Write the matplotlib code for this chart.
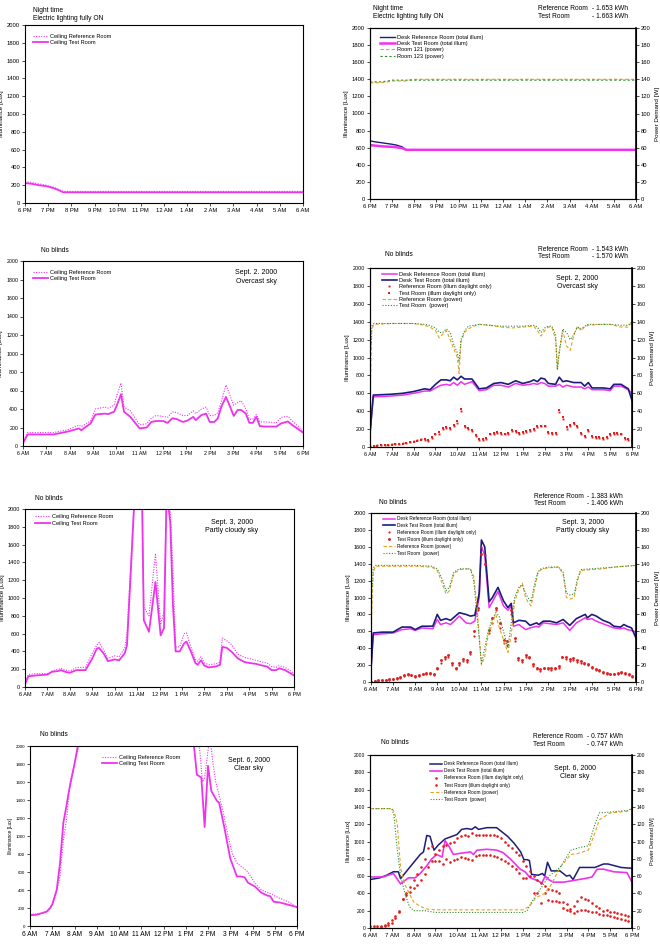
import numpy as np
import matplotlib
matplotlib.use("Agg")
import matplotlib.pyplot as plt

plt.rcParams['font.family'] = ['Liberation Sans', 'DejaVu Sans']

MAG = '#ee33ee'
NAVY = '#1c1c7a'
ORANGE = '#e8a020'
GREEN = '#2e8b2e'
RED = '#e02020'

night_labels = ['6 PM', '7 PM', '8 PM', '9 PM', '10 PM', '11 PM', '12 AM',
                '1 AM', '2 AM', '3 AM', '4 AM', '5 AM', '6 AM']
day_labels = ['6 AM', '7 AM', '8 AM', '9 AM', '10 AM', '11 AM', '12 PM',
              '1 PM', '2 PM', '3 PM', '4 PM', '5 PM', '6 PM']
# 10 minute sample grid (hours from start) used by the daylight-only readings
minutes = np.arange(0, 721, 10) / 60.0

# ---- night, ceiling
p1_t = [0, 0.3, 0.6, 0.9, 1.2, 1.4, 1.65, 12]
p1_ref = [240, 230, 215, 200, 180, 160, 130, 130]
p1_test = [225, 215, 200, 190, 170, 150, 120, 120]

# ---- night, desk + power
p2_t = [0, 0.2, 0.6, 1.0, 1.2, 1.45, 1.65, 12]
p2_ref = [680, 670, 655, 640, 630, 610, 570, 570]
p2_test = [630, 625, 615, 610, 605, 595, 575, 575]
p2_pt = [0, 0.5, 0.8, 1.0, 1.3, 1.6, 1.9, 12]
p2_pow121 = [136, 136, 137, 138, 138, 138, 140, 140]
p2_pow123 = [137, 137, 138, 139, 139, 139, 139, 139]

# ---- Sept 2, ceiling
p3_t = [0, 0.2, 1.3, 1.9, 2.4, 2.5, 2.9, 3.1, 3.3, 3.5, 3.66, 3.9, 4.0, 4.2, 4.33, 4.6,
        5.0, 5.3, 5.5, 5.7, 6.0, 6.2, 6.4, 6.6, 6.85, 7.05, 7.3, 7.4, 7.65, 7.85, 8.0,
        8.2, 8.35, 8.5, 8.7, 8.85, 9.03, 9.2, 9.35, 9.55, 9.7, 9.85, 10.0, 10.15, 10.4,
        10.85, 11.07, 11.35, 11.55, 12]
p3_test = [30, 125, 125, 155, 190, 170, 245, 340, 345, 350, 345, 370, 425, 560, 370, 315,
           190, 200, 260, 270, 270, 250, 300, 290, 260, 275, 315, 280, 335, 350, 260,
           260, 300, 425, 530, 440, 325, 390, 390, 350, 250, 250, 315, 215, 210,
           210, 245, 265, 225, 145]
p3_ref = [40, 145, 145, 175, 225, 210, 270, 400, 410, 420, 410, 440, 530, 680, 420, 380,
          230, 240, 300, 330, 320, 310, 370, 360, 330, 330, 380, 350, 400, 420, 330,
          330, 360, 480, 660, 560, 440, 470, 490, 400, 290, 290, 340, 260, 260,
          250, 310, 320, 270, 160]

# ---- Sept 2, desk + power
p4_t = [0, 0.15, 1.0, 1.5, 2.0, 2.5, 2.75, 3.0, 3.25, 3.5, 3.67, 3.83, 4.0, 4.17, 4.33,
        4.67, 5.0, 5.33, 5.67, 6.0, 6.33, 6.67, 7.0, 7.33, 7.5, 7.67, 7.83, 8.0, 8.17,
        8.5, 8.67, 8.83, 9.0, 9.33, 9.67, 9.83, 10.0, 10.17, 10.67, 11.0, 11.17, 11.5,
        11.83, 12]
p4_test = [150, 580, 590, 600, 620, 650, 640, 700, 750, 750, 740, 780, 750, 790, 760,
           760, 650, 660, 710, 720, 700, 740, 710, 730, 750, 730, 770, 760, 710,
           700, 780, 730, 740, 720, 720, 680, 720, 660, 660, 650, 700, 700, 650, 520]
p4_ref = [150, 560, 570, 580, 600, 625, 625, 660, 690, 700, 690, 720, 690, 730, 700,
          730, 630, 640, 690, 690, 670, 710, 690, 700, 710, 700, 720, 710, 680,
          680, 700, 670, 690, 670, 670, 650, 670, 640, 640, 630, 680, 680, 640, 600]
p4_day_ref = [10, 15, 20, 20, 25, 25, 30, 30, 35, 40, 50, 60, 70, 80, 90, 80, 70, 100,
              140, 150, 200, 210, 200, 230, 270, 400, 220, 200, 180, 120, 80, 80, 90, 140,
              150, 160, 150, 140, 150, 180, 170, 150, 160, 170, 180, 190, 220, 240, 230,
              160, 150, 150, 390, 310, 200, 240, 260, 220, 150, 110, 180, 110, 100, 100,
              90, 100, 130, 150, 150, 140, 90, 80, 60]
p4_day_test = [0, 10, 15, 20, 20, 25, 25, 30, 30, 35, 45, 55, 60, 70, 80, 90, 80, 110,
               150, 170, 210, 220, 210, 250, 290, 430, 240, 210, 190, 130, 90, 90, 100, 150,
               160, 170, 160, 150, 160, 190, 180, 160, 170, 180, 190, 200, 230, 240, 240,
               170, 160, 160, 410, 340, 220, 250, 270, 240, 160, 120, 190, 120, 110, 110,
               100, 110, 140, 160, 160, 150, 100, 90, 70]
p4_pt = [0, 0.03, 0.05, 0.08, 0.17, 1.0, 2.0, 2.5, 2.75, 3.0, 3.17, 3.33, 3.5, 3.67, 3.83,
         4.0, 4.08, 4.17, 4.33, 4.5, 4.75, 5.0, 5.5, 6.0, 6.5, 7.0, 7.5, 7.67, 7.83, 8.0,
         8.17, 8.33, 8.5, 8.58, 8.67, 8.83, 9.0, 9.17, 9.33, 9.5, 9.67, 9.83, 10.0, 10.5,
         11.0, 11.5, 11.83, 12]
p4_pow_ref = [40, 80, 100, 130, 137, 138, 138, 136, 134, 130, 122, 126, 130, 120, 110,
              100, 82, 118, 128, 132, 135, 137, 136, 134, 133, 134, 135, 130, 124, 130,
              134, 134, 120, 88, 108, 130, 113, 108, 125, 135, 130, 134, 136, 137,
              137, 134, 134, 140]
p4_pow_test = [70, 110, 112, 135, 138, 138, 138, 137, 136, 133, 128, 128, 132, 128, 115,
               105, 95, 120, 130, 135, 136, 137, 136, 135, 135, 135, 136, 134, 128, 133,
               135, 135, 125, 86, 105, 132, 128, 120, 125, 134, 132, 135, 137, 137,
               137, 136, 136, 140]

# ---- Sept 3, ceiling
p5_t = [0, 0.15, 0.5, 1.0, 1.2, 1.5, 1.6, 1.8, 2.0, 2.3, 2.7, 3.0, 3.2, 3.3, 3.5, 3.7,
        4.0, 4.2, 4.45, 4.55, 4.7, 4.85, 5.0, 5.2, 5.3, 5.53, 5.82, 6.05, 6.2, 6.32,
        6.48, 6.6, 6.72, 6.9, 7.1, 7.2, 7.4, 7.6, 7.7, 7.85, 8.0, 8.2, 8.5, 8.7, 8.8,
        9.0, 9.2, 9.5, 9.8, 10.0, 10.3, 10.6, 10.8, 11.0, 11.2, 11.35, 11.6, 11.8, 12]
p5_test = [30, 120, 130, 140, 170, 180, 190, 170, 160, 190, 190, 320, 430, 440, 380, 290,
           310, 300, 380, 470, 1200, 1950, 2600, 2500, 750, 620, 1180, 580, 660, 2200,
           1850, 920, 400, 400, 490, 510, 400, 270, 250, 300, 240, 220, 230, 250, 450,
           440, 400, 320, 280, 270, 260, 240, 230, 190, 190, 210, 190, 160, 130]
p5_ref = [40, 140, 150, 150, 180, 200, 210, 190, 180, 220, 220, 380, 470, 500, 420, 320,
          350, 340, 440, 600, 1300, 2000, 2700, 2600, 900, 800, 1500, 700, 850, 2300,
          2000, 1300, 450, 450, 600, 610, 450, 310, 290, 340, 270, 250, 260, 280, 550,
          520, 480, 370, 330, 320, 300, 280, 270, 230, 220, 240, 220, 190, 150]

# ---- Sept 3, desk + power
p6_t = [0, 0.1, 0.5, 1.0, 1.2, 1.4, 1.8, 2.0, 2.3, 2.8, 3.0, 3.15, 3.4, 3.6, 4.0, 4.3,
        4.5, 4.7, 4.9, 5.0, 5.15, 5.35, 5.5, 5.75, 6.0, 6.2, 6.35, 6.45, 6.7, 7.0, 7.2,
        7.5, 7.6, 7.8, 8.1, 8.4, 8.7, 9.0, 9.3, 9.7, 9.8, 10.0, 10.2, 10.5, 10.8, 11.0,
        11.3, 11.45, 11.6, 11.8, 12.0]
p6_test = [150, 580, 590, 590, 620, 650, 650, 620, 660, 660, 800, 730, 750, 730, 820, 800,
           780, 790, 1050, 1680, 1600, 950, 1000, 1120, 960, 880, 930, 700, 730, 720, 670,
           700, 680, 720, 720, 700, 740, 670, 750, 800, 760, 800, 780, 730, 700, 660,
           650, 680, 660, 640, 520]
p6_ref = [150, 560, 570, 580, 600, 620, 630, 610, 640, 630, 740, 680, 700, 680, 780, 700,
          690, 720, 1000, 1600, 1500, 880, 950, 1070, 900, 850, 900, 660, 680, 620, 640,
          660, 650, 700, 690, 680, 700, 610, 700, 760, 740, 750, 720, 690, 660, 640,
          630, 640, 620, 610, 590]
p6_day_ref = [0, 10, 15, 20, 20, 25, 30, 40, 50, 70, 80, 80, 60, 70, 90, 100, 100, 80,
              150, 230, 270, 290, 200, 150, 200, 250, 240, 330, 550, 850, 1600, 1500, 580,
              700, 850, 640, 460, 440, 800, 480, 260, 240, 300, 280, 190, 150, 130, 160,
              150, 140, 150, 170, 300, 270, 250, 260, 240, 230, 210, 200, 170, 140, 130,
              110, 100, 90, 90, 100, 110, 100, 80, 60, 40]
p6_day_test = [0, 15, 20, 25, 25, 30, 40, 50, 60, 80, 90, 85, 70, 80, 100, 110, 110, 90,
               170, 260, 300, 320, 230, 170, 220, 270, 260, 350, 600, 880, 1520, 1400, 620,
               760, 880, 700, 500, 480, 850, 520, 280, 260, 320, 300, 210, 170, 150, 170,
               170, 160, 170, 190, 300, 290, 270, 280, 260, 250, 230, 210, 180, 150, 140,
               120, 110, 100, 100, 110, 120, 110, 90, 70, 50]
p6_pt = [0, 0.03, 0.06, 0.1, 0.2, 1.0, 2.0, 2.75, 3.0, 3.25, 3.4, 3.55, 3.75, 4.0, 4.5,
         4.65, 4.8, 5.0, 5.15, 5.3, 5.5, 5.65, 5.8, 6.0, 6.2, 6.35, 6.5, 6.7, 6.85, 7.0,
         7.1, 7.25, 7.4, 7.55, 7.7, 8.0, 8.5, 8.7, 8.85, 9.0, 9.2, 9.35, 9.5, 10.0, 10.5,
         11.0, 11.5, 12.0]
p6_pow_ref = [40, 80, 100, 130, 137, 137, 137, 136, 132, 115, 104, 108, 128, 133, 134,
              125, 90, 20, 30, 55, 70, 80, 65, 50, 35, 55, 95, 110, 117, 100, 95, 90, 110,
              128, 133, 135, 136, 128, 100, 98, 100, 120, 132, 133, 134, 136, 137, 138]
p6_pow_test = [70, 110, 112, 135, 138, 138, 138, 137, 134, 120, 108, 112, 130, 134, 134,
               120, 80, 22, 40, 60, 75, 82, 78, 60, 40, 70, 100, 112, 115, 105, 100, 95,
               115, 130, 134, 136, 136, 130, 105, 103, 104, 122, 133, 134, 135, 136, 137,
               138]

# ---- Sept 6, ceiling
p7_t = [0, 0.3, 0.5, 0.75, 0.9, 1.0, 1.1, 1.2, 1.35, 1.5, 1.65, 1.75, 2.0, 2.15, 2.3,
        3.0, 5.0, 7.0, 7.35, 7.5, 7.7, 7.85, 8.0, 8.15, 8.4, 8.5, 8.73, 9.0, 9.15, 9.3,
        9.5, 9.65, 9.8, 10.1, 10.4, 10.65, 10.8, 10.95, 11.25, 11.7, 12.0]
p7_test = [120, 125, 140, 160, 200, 240, 320, 400, 700, 1150, 1350, 1500, 1800, 2000,
           2300, 3500, 4500, 3500, 2050, 1680, 1650, 1100, 1780, 1500, 1390, 1370, 1100,
           750, 650, 550, 550, 540, 480, 440, 370, 340, 330, 270, 260, 230, 210]
p7_rt = [0, 0.3, 0.5, 0.75, 0.9, 1.0, 1.1, 1.2, 1.35, 1.5, 1.65, 1.8, 2.0, 2.2, 2.4,
         3.0, 5.0, 7.0, 7.55, 7.65, 7.75, 7.85, 8.0, 8.1, 8.2, 8.35, 8.55, 8.7, 8.9, 9.1,
         9.3, 9.6, 9.8, 10.1, 10.4, 10.8, 11.2, 11.7, 12.0]
p7_ref = [130, 135, 140, 155, 190, 230, 300, 380, 560, 950, 1200, 1600, 1800, 2000, 2400,
          3500, 4500, 3500, 2100, 1900, 1600, 1650, 1950, 2100, 1850, 1600, 1400, 1250,
          1000, 800, 700, 640, 600, 480, 400, 360, 310, 260, 200]

# ---- Sept 6, desk + power
p8_t = [0, 0.45, 0.76, 1.07, 1.3, 1.4, 1.75, 2.3, 2.45, 2.6, 2.75, 2.93, 3.13, 3.44,
        3.98, 4.2, 4.43, 4.66, 4.82, 4.97, 5.35, 5.8, 6.3, 6.6, 6.9, 7.05, 7.2, 7.3, 7.4,
        7.7, 7.9, 8.0, 8.13, 8.3, 8.7, 9.0, 9.15, 9.3, 9.6, 10.3, 10.7, 10.9, 11.5, 12.0]
p8_ref = [560, 580, 610, 650, 650, 570, 680, 850, 880, 1070, 1060, 900, 960, 1030, 1080,
          1140, 1150, 1140, 1170, 1140, 1160, 1160, 1060, 980, 880, 790, 790, 780, 620,
          610, 630, 600, 760, 660, 660, 600, 610, 560, 700, 700, 740, 740, 700, 690]
p8_mt = [0, 0.6, 1.07, 1.4, 1.76, 2.06, 2.3, 2.6, 2.83, 3.06, 3.3, 3.44, 3.6, 3.82, 4.05,
         4.6, 4.74, 4.9, 5.35, 5.8, 6.1, 6.42, 6.88, 7.1, 7.34, 7.65, 7.87, 8.03, 8.18,
         8.4, 8.87, 9.33, 9.8, 10.17, 10.4, 10.7, 11.16, 11.77, 12.0]
p8_test = [590, 590, 630, 510, 580, 580, 630, 720, 800, 850, 820, 1010, 950, 850, 860,
           880, 850, 900, 910, 900, 870, 800, 680, 650, 580, 550, 520, 600, 560, 530, 530,
           550, 570, 590, 680, 680, 650, 640, 530]
p8_day_ref = [20, 20, 20, 25, 40, 60, 90, 140, 200, 340, 380, 470, 560, 620, 700, 800,
              930, 950, 860, 900, 950, 960, 980, 1000, 1040, 1060, 1070, 1060, 1100, 1070,
              1080, 1070, 1080, 1080, 1080, 1060, 1040, 1000, 960, 920, 880, 840, 780, 720,
              660, 600, 560, 520, 480, 450, 440, 430, 400, 300, 280, 220, 260, 310, 360,
              340, 320, 290, 260, 230, 200, 210, 190, 180, 170, 160, 150, 140, 130]
p8_day_test = [0, 0, 5, 10, 20, 40, 60, 120, 190, 330, 400, 420, 460, 500, 560, 620, 700,
               770, 780, 770, 740, 800, 760, 790, 800, 820, 810, 800, 790, 830, 840, 840,
               840, 840, 830, 820, 800, 780, 750, 720, 680, 640, 580, 580, 600, 400, 400,
               290, 400, 320, 310, 310, 300, 230, 210, 200, 170, 200, 210, 210, 200, 190,
               180, 160, 150, 150, 140, 130, 110, 100, 90, 80, 70]
p8_pt_ref = [0, 1.0, 1.1, 1.25, 1.4, 1.6, 1.8, 2.0, 2.3, 2.6, 3.0, 7.0, 7.3, 7.6, 8.0,
             8.3, 8.7, 9.2, 9.5, 10.0, 10.3, 10.5, 11.0, 11.8, 12.0]
p8_pow_ref = [138, 138, 135, 120, 70, 50, 40, 30, 25, 22, 21, 21, 25, 35, 40, 50, 70, 85,
              86, 90, 110, 125, 133, 135, 138]
p8_pt_test = [0, 1.0, 1.1, 1.25, 1.4, 1.6, 1.8, 2.0, 2.5, 3.0, 5.0, 7.0, 7.2, 7.4, 7.8,
              8.2, 8.7, 9.2, 9.6, 10.0, 10.3, 10.5, 11.0, 11.8, 12.0]
p8_pow_test = [138, 138, 130, 90, 60, 40, 25, 20, 20, 18, 18, 18, 20, 30, 45, 60, 70, 90,
               93, 95, 120, 133, 134, 136, 138]

W, H = 660, 948
fig = plt.figure(figsize=(W / 100, H / 100), dpi=100)


def px_axes(box):
    x0, y0, x1, y1 = box
    return fig.add_axes([x0 / W, 1 - y1 / H, (x1 - x0) / W, (y1 - y0) / H])


def px_text(x, y, s, size=4.8, ha='left'):
    fig.text(x / W, 1 - y / H, s, fontsize=size, ha=ha, va='center')


def style(ax, labels, xsize, ysize, lsize):
    ax.set_xlim(0, 12)
    ax.set_ylim(0, 2000)
    ax.set_xticks(range(13))
    ax.set_xticklabels(labels, fontsize=xsize)
    ax.set_yticks(range(0, 2001, 200))
    ax.tick_params(axis='y', labelsize=ysize)
    ax.tick_params(length=2, width=0.5, pad=1.5)
    ax.set_ylabel('Illuminance [Lux]', fontsize=lsize, labelpad=2)
    for s in ax.spines.values():
        s.set_linewidth(0.8)


def power_axis(ax, tsize, lsize):
    ax2 = ax.twinx()
    ax2.set_ylim(0, 200)
    ax2.set_yticks(range(0, 201, 20))
    ax2.tick_params(labelsize=tsize, length=2, width=0.5, pad=1.5)
    ax2.set_ylabel('Power Demand [W]', fontsize=lsize, labelpad=3)
    ax2.spines['right'].set_linewidth(1.2)
    return ax2


def legend_at(ax, box, handles, lx, ly, size, row):
    x0, y0, x1, y1 = box
    fs = size * 100 / 72
    top = ly - 0.6 * fs
    ax.legend(handles=handles, loc='upper left',
              bbox_to_anchor=((lx - x0) / (x1 - x0), (y1 - top) / (y1 - y0)),
              frameon=False, fontsize=size, borderaxespad=0, borderpad=0,
              handlelength=2.6, handletextpad=0.4,
              labelspacing=max((row - 1.2 * fs) / fs, 0.05))


def ceiling_lines(ax, t_ref, ref, t_test, test):
    a, = ax.plot(t_ref, ref, color=MAG, lw=0.8, ls=(0, (1, 1.3)),
                 label='Ceiling Reference Room')
    b, = ax.plot(t_test, test, color=MAG, lw=1.3, label='Ceiling Test Room')
    return [a, b]


def header(x, y, lines, size=4.8):
    for i, s in enumerate(lines):
        px_text(x, y + i * 8, s, size)


def energy(x, xr, y, ref_kwh, test_kwh, size=4.8):
    px_text(x, y, 'Reference Room', size)
    px_text(xr, y, '- %s kWh' % ref_kwh, size, ha='right')
    px_text(x, y + 8, 'Test Room', size)
    px_text(xr, y + 8, '- %s kWh' % test_kwh, size, ha='right')


def sky(x, y, l1, l2, size=5):
    px_text(x, y, l1, size, ha='center')
    px_text(x, y + 8.5, l2, size, ha='center')


# ================= panel 1
b1 = (25, 25, 303, 203)
ax = px_axes(b1)
h = ceiling_lines(ax, p1_t, p1_ref, p1_t, p1_test)
style(ax, night_labels, 4.2, 4.2, 4.5)
legend_at(ax, b1, h, 33, 37, 4.1, 8)
header(33, 11, ['Night time', 'Electric lighting fully ON'])

# ================= panel 2
b2 = (370, 28, 636, 199)
ax = px_axes(b2)
l1, = ax.plot(p2_t, p2_ref, color=NAVY, lw=1.0, label='Desk Reference Room (total illum)')
l2, = ax.plot(p2_t, p2_test, color=MAG, lw=1.8, label='Desk Test Room (total illum)')
style(ax, night_labels, 4.2, 4.2, 4.5)
ax2 = power_axis(ax, 4.2, 4.5)
l3, = ax2.plot(p2_pt, p2_pow121, color=ORANGE, lw=0.8, ls=(0, (3, 2)), label='Room 121 (power)')
l4, = ax2.plot(p2_pt, p2_pow123, color=GREEN, lw=0.8, ls=(0, (2, 2)), label='Room 123 (power)')
legend_at(ax2, b2, [l1, l2, l3, l4], 380, 38, 4.1, 8.2)
header(373, 8, ['Night time', 'Electric lighting fully ON'])
energy(538, 628, 8, '1.653', '1.663')


def desk_panel(box, t_a, a, col_a, lab_a, t_b, b, col_b, lab_b, day_a, day_b, pt_a, pow_a,
               pt_b, pow_b, sizes, leg, mk):
    ax = px_axes(box)
    xs, ys, ls, lg = sizes
    h1, = ax.plot(t_a, a, color=col_a, lw=1.1, label=lab_a)
    h2, = ax.plot(t_b, b, color=col_b, lw=1.2, label=lab_b)
    h3, = ax.plot(minutes, day_a, ls='none', marker=mk[0], ms=mk[1], color=RED, mew=0,
                  label='Reference Room (illum daylight only)')
    h4, = ax.plot(minutes, day_b, ls='none', marker=mk[0], ms=mk[2], color=RED, mew=0,
                  label='Test Room (illum daylight only)')
    style(ax, day_labels, xs, ys, ls)
    ax2 = power_axis(ax, ys, ls)
    h5, = ax2.plot(pt_a, pow_a, color=ORANGE, lw=0.8, ls=(0, (3, 2)),
                   label='Reference Room (power)')
    h6, = ax2.plot(pt_b, pow_b, color=GREEN, lw=0.8, ls=(0, (1, 1.5)),
                   label='Test Room  (power)')
    legend_at(ax2, box, [h1, h2, h3, h4, h5, h6], leg[0], leg[1], lg, leg[2])
    return ax


# ================= panel 3
b3 = (23, 261, 303, 446)
ax = px_axes(b3)
h = ceiling_lines(ax, p3_t, p3_ref, p3_t, p3_test)
style(ax, day_labels, 3.8, 3.8, 4.5)
legend_at(ax, b3, h, 33, 273, 4.1, 8)
header(41, 251, ['No blinds'])
sky(256, 273, 'Sept. 2. 2000', 'Overcast sky')

# ================= panel 4
b4 = (370, 268, 632, 447)
desk_panel(b4, p4_t, p4_ref, MAG, 'Desk Reference Room (total illum)',
           p4_t, p4_test, NAVY, 'Desk Test Room (total illum)',
           p4_day_ref, p4_day_test, p4_pt, p4_pow_ref, p4_pt, p4_pow_test,
           (3.9, 3.9, 4.5, 4.1), (382, 275, 8.2), ('s', 1.4, 1.9))
header(385, 255, ['No blinds'])
energy(538, 628, 249, '1.543', '1.570')
sky(577, 278, 'Sept. 2, 2000', 'Overcast sky')

# ================= panel 5
b5 = (25, 509, 294, 687)
ax = px_axes(b5)
h = ceiling_lines(ax, p5_t, p5_ref, p5_t, p5_test)
style(ax, day_labels, 4.0, 4.0, 4.5)
legend_at(ax, b5, h, 35, 517, 4.1, 9)
header(35, 499, ['No blinds'])
sky(232, 522, 'Sept. 3, 2000', 'Partly cloudy sky')

# ================= panel 6
b6 = (371, 513, 636, 682)
desk_panel(b6, p6_t, p6_ref, MAG, 'Desk Reference Room (total illum)',
           p6_t, p6_test, NAVY, 'Desk Test Room (total illum)',
           p6_day_ref, p6_day_test, p6_pt, p6_pow_ref, p6_pt, p6_pow_test,
           (4.2, 4.0, 4.5, 3.4), (383, 519, 7.6), ('o', 1.6, 2.1))
header(379, 502, ['No blinds'])
energy(534, 623, 496, '1.383', '1.406')
sky(583, 522, 'Sept. 3, 2000', 'Partly cloudy sky')

# ================= panel 7
b7 = (30, 746, 297, 926)
ax = px_axes(b7)
h = ceiling_lines(ax, p7_rt, p7_ref, p7_t, p7_test)
style(ax, day_labels, 4.8, 3.2, 3.4)
legend_at(ax, b7, h, 102, 758, 4.1, 8)
header(40, 734, ['No blinds'])
sky(249, 760, 'Sept. 6, 2000', 'Clear sky')

# ================= panel 8
b8 = (370, 755, 632, 928)
desk_panel(b8, p8_t, p8_ref, NAVY, 'Desk Reference Room (total illum)',
           p8_mt, p8_test, MAG, 'Desk Test Room (total illum)',
           p8_day_ref, p8_day_test, p8_pt_ref, p8_pow_ref, p8_pt_test, p8_pow_test,
           (4.4, 3.6, 4.0, 3.4), (430, 764, 7.8), ('o', 1.9, 1.9))
header(381, 742, ['No blinds'])
energy(533, 623, 736, '0.757', '0.747')
sky(575, 768, 'Sept. 6, 2000', 'Clear sky')

fig.savefig('out.png', dpi=100)
